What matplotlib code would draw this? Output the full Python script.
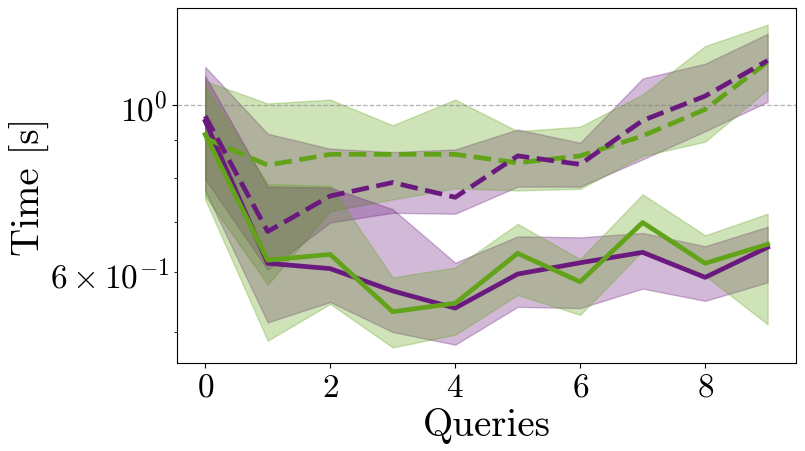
import numpy as np
import matplotlib
matplotlib.use("Agg")
import matplotlib.pyplot as plt

queries = [0, 1, 2, 3, 4, 5, 6, 7, 8, 9]

# purple series
purple_solid = [0.953, 0.617, 0.607, 0.567, 0.538, 0.597, 0.618, 0.638, 0.591, 0.648]
purple_solid_lo = [0.770, 0.515, 0.548, 0.500, 0.481, 0.540, 0.538, 0.571, 0.550, 0.582]
purple_solid_hi = [1.094, 0.780, 0.778, 0.728, 0.618, 0.670, 0.668, 0.677, 0.650, 0.690]

purple_dash = [0.968, 0.680, 0.758, 0.790, 0.755, 0.857, 0.835, 0.955, 1.029, 1.147]
purple_dash_lo = [0.798, 0.605, 0.699, 0.720, 0.718, 0.780, 0.780, 0.848, 0.924, 1.011]
purple_dash_hi = [1.125, 0.917, 0.876, 0.867, 0.874, 0.929, 0.892, 1.086, 1.136, 1.245]

# green series
green_solid = [0.915, 0.623, 0.634, 0.532, 0.546, 0.636, 0.583, 0.699, 0.617, 0.654]
green_solid_lo = [0.750, 0.487, 0.545, 0.477, 0.496, 0.560, 0.527, 0.641, 0.594, 0.512]
green_solid_hi = [1.060, 0.786, 0.782, 0.591, 0.609, 0.696, 0.625, 0.762, 0.672, 0.718]

green_dash = [0.905, 0.833, 0.861, 0.861, 0.861, 0.839, 0.857, 0.911, 0.988, 1.142]
green_dash_lo = [0.758, 0.578, 0.724, 0.750, 0.776, 0.771, 0.775, 0.857, 0.895, 1.050]
green_dash_hi = [1.077, 1.006, 1.018, 0.941, 1.018, 0.924, 0.937, 1.034, 1.199, 1.280]

PURPLE = '#6a1a7e'
GREEN = '#62a31a'

plt.rcParams.update({
    'font.family': 'serif',
    'font.serif': ['cmr10'],
    'mathtext.fontset': 'cm',
    'axes.formatter.use_mathtext': True,
    'axes.labelsize': 28,
    'xtick.labelsize': 24,
    'ytick.labelsize': 24,
})

fig = plt.figure(figsize=(8.05, 4.52), dpi=100)
ax = fig.add_axes([0.22, 0.195, 0.7685, 0.785])

ax.axhline(1.0, color='grey', ls='--', lw=0.9, alpha=0.6)

for lo, hi, c in [(purple_dash_lo, purple_dash_hi, PURPLE),
                  (green_dash_lo, green_dash_hi, GREEN),
                  (purple_solid_lo, purple_solid_hi, PURPLE),
                  (green_solid_lo, green_solid_hi, GREEN)]:
    ax.fill_between(queries, lo, hi, color=c, alpha=0.3)

ax.plot(queries, purple_solid, c=PURPLE, lw=3.4)
ax.plot(queries, green_solid, c=GREEN, lw=3.4)
ax.plot(queries, green_dash, c=GREEN, lw=3.4, ls='--')
ax.plot(queries, purple_dash, c=PURPLE, lw=3.4, ls='--')

ax.set_yscale('log')
ax.set_ylim(0.455, 1.347)
ax.set_xticks([0, 2, 4, 6, 8])
ax.set_xlabel("Queries")
ax.set_ylabel("Time [s]")
ax.yaxis.set_label_coords(-0.205, 0.5)

fig.savefig("out.png", dpi=100)
